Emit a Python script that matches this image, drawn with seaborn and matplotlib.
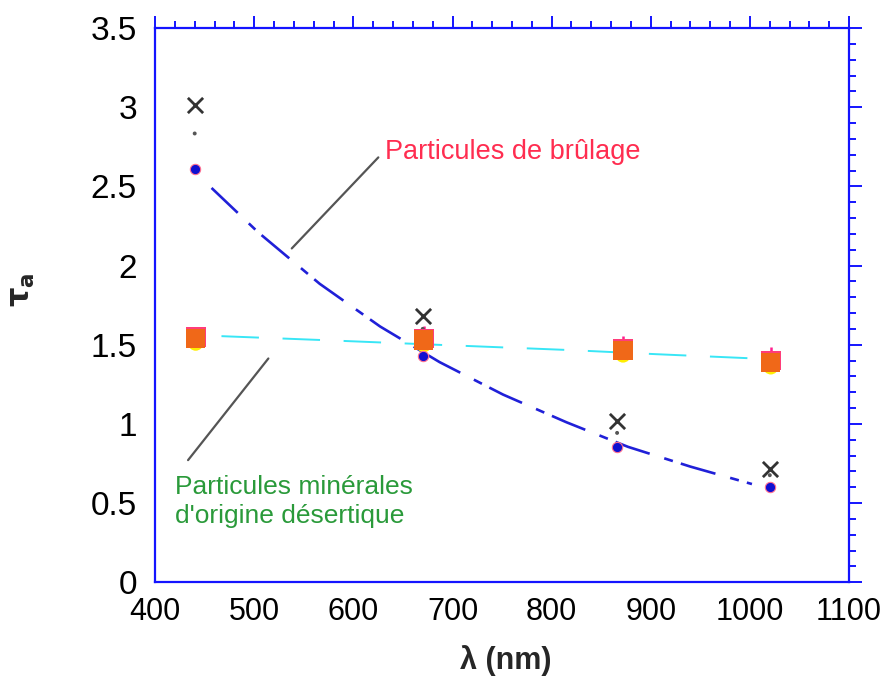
import numpy as np
import pandas as pd
import seaborn as sns
import matplotlib.pyplot as plt
from matplotlib.ticker import MultipleLocator, FormatStrFormatter

wl_brul = [440, 670, 866, 1020]
tau_brul = [2.607, 1.43, 0.855, 0.602]
tau_cross = [3.013, 1.68, 1.019, 0.718]
tau_dot = [2.834, 1.60, 0.943, 0.676]

wl_min = [441, 671, 872, 1021]
tau_min = [1.54, 1.53, 1.466, 1.39]
tau_min_pink = [1.55, 1.54, 1.476, 1.40]
tau_min_err_top = [1.61, 1.62, 1.556, 1.483]
tau_min_yellow = [1.51, 1.50, 1.435, 1.36]

# fitted curves
fit_brul_x = [457, 504, 566, 627, 687, 751, 815, 877, 940, 1002]
fit_brul_y = [2.49, 2.21, 1.885, 1.615, 1.39, 1.185, 1.01, 0.855, 0.73, 0.62]
fit_min_x = [467, 570, 687, 819, 906, 1005]
fit_min_y = [1.554, 1.529, 1.499, 1.466, 1.44, 1.413]

x_ticks = [400, 500, 600, 700, 800, 900, 1000, 1100]
y_ticks = [0, 0.5, 1, 1.5, 2, 2.5, 3, 3.5]

sns.set_style("white")
plt.rcParams["font.family"] = ["Liberation Sans", "DejaVu Sans"]
plt.rcParams["lines.scale_dashes"] = False

spine_blue = "#1414ff"

fig = plt.figure(figsize=(8.91, 6.77), dpi=100)
ax = fig.add_axes([0.174, 0.140, 0.779, 0.8186])

df_fb = pd.DataFrame({"x": fit_brul_x, "y": fit_brul_y})
df_fm = pd.DataFrame({"x": fit_min_x, "y": fit_min_y})
sns.lineplot(data=df_fm, x="x", y="y", ax=ax, color="#38e6f6", lw=1.4,
             sort=False, zorder=2)
ax.get_lines()[-1].set_dashes([27, 17])
sns.lineplot(data=df_fb, x="x", y="y", ax=ax, color="#2020d8", lw=1.9,
             sort=False, zorder=2)
ax.get_lines()[-1].set_dashes([26, 11, 6.5, 6])

# mineral dust markers
err_up = np.array(tau_min_err_top) - np.array(tau_min_pink)
ax.errorbar(wl_min, tau_min_pink, yerr=[np.zeros(4), err_up], fmt="none",
            ecolor="#ff1f8f", elinewidth=1.8, capsize=0, zorder=3)
sns.scatterplot(x=wl_min, y=tau_min_yellow, ax=ax, marker="o", s=120,
                color="#ffee00", edgecolor="none", zorder=3)
sns.scatterplot(x=wl_min, y=tau_min_pink, ax=ax, marker="s", s=200,
                color="#ff3d7a", edgecolor="none", zorder=4)
sns.scatterplot(x=wl_min, y=tau_min, ax=ax, marker="s", s=190,
                color="#f06818", edgecolor="none", zorder=5)

# burning particles markers
sns.scatterplot(x=wl_brul, y=tau_dot, ax=ax, marker="o", s=8,
                color="#555555", edgecolor="none", zorder=3)
sns.scatterplot(x=wl_brul, y=tau_cross, ax=ax, marker="x", s=120,
                color="#333333", linewidth=2, zorder=6)
sns.scatterplot(x=wl_brul, y=tau_brul, ax=ax, marker="o", s=55,
                color="#1010d0", edgecolor="#ff7090", linewidth=0.8, zorder=6)

# annotations
ax.plot([625.2, 537.9], [2.683, 2.108], color="#555555", lw=1.6, zorder=2)
ax.plot([514.3, 433.3], [1.413, 0.771], color="#555555", lw=1.6, zorder=2)
ax.text(632, 2.715, "Particules de brûlage", color="#ff2d50", fontsize=19.5,
        ha="left", va="center")
ax.text(420, 0.51, "Particules minérales\nd'origine désertique",
        color="#2a9a3a", fontsize=19, ha="left", va="center",
        linespacing=1.3)

ax.set_xlim(400, 1100)
ax.set_ylim(0, 3.5)
ax.set_xticks(x_ticks)
ax.set_yticks(y_ticks)
ax.xaxis.set_minor_locator(MultipleLocator(20))
ax.yaxis.set_minor_locator(MultipleLocator(0.1))
ax.yaxis.set_major_formatter(FormatStrFormatter("%g"))

for side in ax.spines:
    ax.spines[side].set_color(spine_blue)
    ax.spines[side].set_linewidth(1.6)
ax.tick_params(which="both", direction="out", top=True, right=True,
               color=spine_blue, width=1.4, labelcolor="black")
ax.tick_params(which="major", length=9)
ax.tick_params(which="minor", length=5)
ax.tick_params(axis="x", which="major", pad=2, labelsize=22)
ax.tick_params(axis="y", which="major", pad=4, labelsize=24)

ax.set_xlabel("λ (nm)", fontsize=22, fontweight="bold")
ax.set_ylabel(r"$\mathbf{\tau}_{\mathbf{a}}$", fontsize=22)
ax.xaxis.label.set_va("center")
ax.xaxis.set_label_coords(0.506, -0.141)
ax.yaxis.set_label_coords(-0.17, 0.527)

fig.savefig("out.png", dpi=100)
